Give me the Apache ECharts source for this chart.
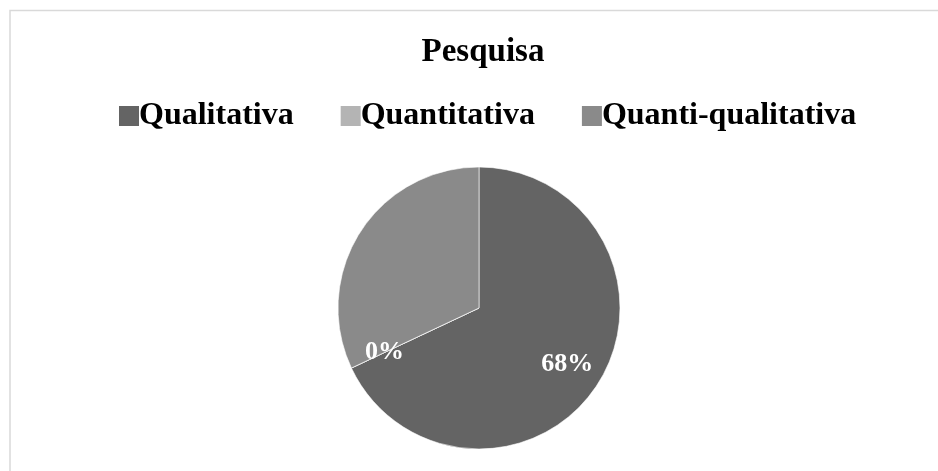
<!DOCTYPE html>
<html>
<head>
<meta charset="utf-8">
<script src="https://cdn.jsdelivr.net/npm/echarts@6/dist/echarts.min.js"></script>
<style>
  html, body { margin: 0; padding: 0; background: #fff; }
  #chart { width: 938px; height: 471px; }
</style>
</head>
<body>
<div id="chart"></div>
<script>
/* -------------------------------------------------------------------------- */
/*                                Pie Pesquisa                                */
/* -------------------------------------------------------------------------- */

const categories = ['Qualitativa', 'Quantitativa', 'Quanti-qualitativa'];
const values = [68, 0, 32];
const showLabel = [true, true, false];
const colors = ['#646464', '#b4b4b4', '#8a8a8a'];

const FONT = '"Liberation Serif", "Times New Roman", serif';

const pieInit = () => {
  const $chart = document.getElementById('chart');
  const chart = echarts.init($chart);

  const pieData = categories.map((name, i) => ({
    name,
    value: values[i],
    itemStyle: { color: colors[i] }
  }));

  // labels sit further out than mid radius, so a transparent ring carries them
  const labelData = categories.map((name, i) => ({
    name,
    value: values[i],
    label: { show: showLabel[i] }
  }));

  const getDefaultOptions = () => ({
    animation: false,
    color: colors,
    title: {
      text: 'Pesquisa',
      left: 478,
      top: 31,
      textAlign: 'center',
      textStyle: {
        fontFamily: FONT,
        fontSize: 33,
        fontWeight: 'bold',
        color: '#000'
      }
    },
    legend: {
      data: categories,
      left: 114,
      top: 95,
      icon: 'rect',
      itemWidth: 20,
      itemHeight: 20,
      itemGap: 47,
      selectedMode: false,
      itemStyle: { borderWidth: 0 },
      textStyle: {
        fontFamily: FONT,
        fontSize: 32,
        fontWeight: 'bold',
        color: '#000',
        padding: [0, 0, 0, -5]
      }
    },
    graphic: [
      {
        type: 'rect',
        silent: true,
        shape: { x: 10, y: 10.5, width: 1000, height: 1000 },
        style: { fill: 'none', stroke: '#d9d9d9', lineWidth: 1.5 }
      }
    ],
    series: [
      {
        type: 'pie',
        center: [479, 308],
        radius: [0, 141],
        startAngle: 90,
        clockwise: true,
        data: pieData,
        label: { show: false },
        labelLine: { show: false },
        itemStyle: { borderColor: '#ffffff', borderWidth: 0.6 },
        emphasis: { disabled: true }
      },
      {
        type: 'pie',
        center: [479, 308],
        radius: [62, 141],
        startAngle: 90,
        clockwise: true,
        silent: true,
        data: labelData,
        itemStyle: { color: 'rgba(0,0,0,0)', borderWidth: 0 },
        label: {
          position: 'inside',
          formatter: '{d}%',
          fontFamily: FONT,
          fontSize: 26,
          fontWeight: 'bold',
          color: '#fff'
        },
        labelLine: { show: false },
        emphasis: { disabled: true }
      }
    ]
  });

  chart.setOption(getDefaultOptions());
};

pieInit();
</script>
</body>
</html>
